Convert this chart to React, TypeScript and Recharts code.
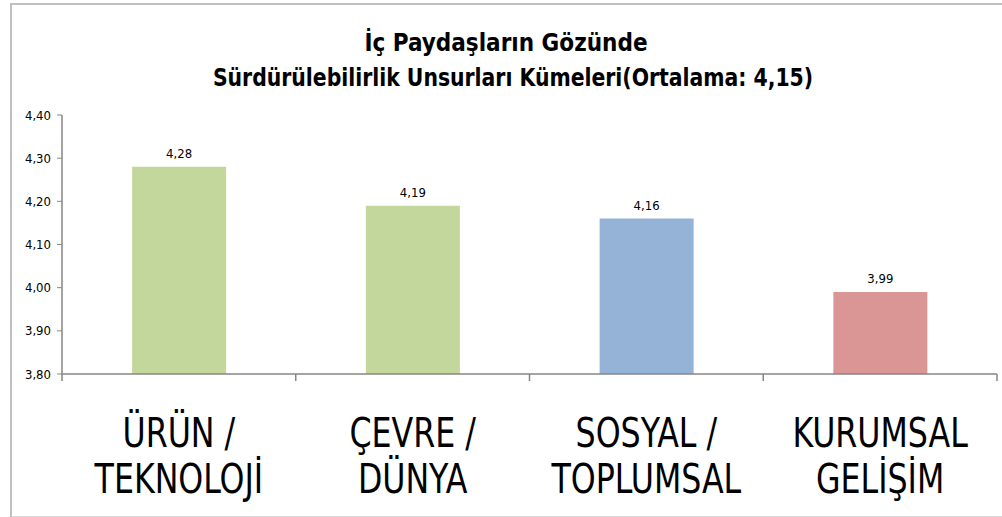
import React from 'react';
import { BarChart, Bar, XAxis, YAxis, Cell, LabelList } from 'recharts';

const categories = ['ÜRÜN / TEKNOLOJİ', 'ÇEVRE / DÜNYA', 'SOSYAL / TOPLUMSAL', 'KURUMSAL GELİŞİM'];
const labelLine1 = ['ÜRÜN /', 'ÇEVRE /', 'SOSYAL /', 'KURUMSAL'];
const labelLine2 = ['TEKNOLOJİ', 'DÜNYA', 'TOPLUMSAL', 'GELİŞİM'];
const values = [4.28, 4.19, 4.16, 3.99];
const barColors = ['#C3D69B', '#C3D69B', '#95B3D7', '#D99694'];
const yTicks = [3.8, 3.9, 4.0, 4.1, 4.2, 4.3, 4.4];
const titleLine1 = 'İç Paydaşların Gözünde';
const titleLine2 = 'Sürdürülebilirlik Unsurları Kümeleri(Ortalama: 4,15)';

const data = categories.map((c, i) => ({ name: c, value: values[i] }));

const FONT = "'Liberation Sans Narrow', 'DejaVu Sans Condensed', Roboto, sans-serif";
const fmt = (v: number) => v.toFixed(2).replace('.', ',');

const XTick = (props: any) => {
  const { x, y, payload } = props;
  const i = categories.indexOf(payload.value);
  const half = payload.offset ?? 0;
  return (
    <g>
      <line x1={x - half} x2={x - half} y1={y} y2={y + 7} stroke="#868686" strokeWidth={1.5} />
      {i === categories.length - 1 && (
        <line x1={x + half} x2={x + half} y1={y} y2={y + 7} stroke="#868686" strokeWidth={1.5} />
      )}
      <g transform={`translate(${x},${y}) scale(0.88,1)`}>
        <text x={0} y={73} textAnchor="middle" fontSize={40} fontFamily={FONT} fill="#000">
          {labelLine1[i]}
        </text>
        <text x={0} y={119} textAnchor="middle" fontSize={40} fontFamily={FONT} fill="#000">
          {labelLine2[i]}
        </text>
      </g>
    </g>
  );
};

export default function App() {
  return (
    <div style={{ position: 'absolute', left: 0, top: 0, width: 1002, height: 517, background: '#fff', overflow: 'hidden' }}>
      <div
        style={{
          position: 'absolute',
          left: 10,
          top: 3,
          width: 1000,
          height: 511,
          borderLeft: '2px solid #c0c0c0',
          borderTop: '2px solid #c0c0c0',
          borderBottom: '2px solid #d8d8d8',
        }}
      />
      <svg width={1002} height={120} style={{ position: 'absolute', left: 0, top: 0 }}>
        <text x={506} y={51} textAnchor="middle" fontSize={24} fontWeight="bold" fontFamily={FONT} fill="#000">
          {titleLine1}
        </text>
        <g transform="translate(513,86) scale(0.945,1)">
          <text x={0} y={0} textAnchor="middle" fontSize={24} fontWeight="bold" fontFamily={FONT} fill="#000">
            {titleLine2}
          </text>
        </g>
      </svg>
      <div style={{ position: 'absolute', left: 0, top: 0 }}>
        <BarChart width={1002} height={517} data={data} margin={{ top: 115, right: 5, bottom: 0, left: 0 }} barCategoryGap="30%">
          <XAxis
            dataKey="name"
            height={143}
            axisLine={{ stroke: '#868686', strokeWidth: 1.5 }}
            tickLine={false}
            tickSize={0}
            tickMargin={0}
            interval={0}
            tick={<XTick />}
          />
          <YAxis
            width={62}
            domain={[3.8, 4.4]}
            ticks={yTicks}
            allowDataOverflow
            tickFormatter={fmt}
            axisLine={{ stroke: '#868686', strokeWidth: 1.5 }}
            tickLine={{ stroke: '#868686' }}
            tickSize={5}
            tickMargin={6}
            tick={{ fontSize: 13, fill: '#000', fontFamily: FONT }}
          />
          <Bar dataKey="value" isAnimationActive={false}>
            {data.map((d, i) => (
              <Cell key={d.name} fill={barColors[i]} />
            ))}
            <LabelList dataKey="value" position="top" offset={9} formatter={(v: any) => fmt(Number(v))} style={{ fontSize: 13, fill: '#000', fontFamily: FONT }} />
          </Bar>
        </BarChart>
      </div>
    </div>
  );
}
